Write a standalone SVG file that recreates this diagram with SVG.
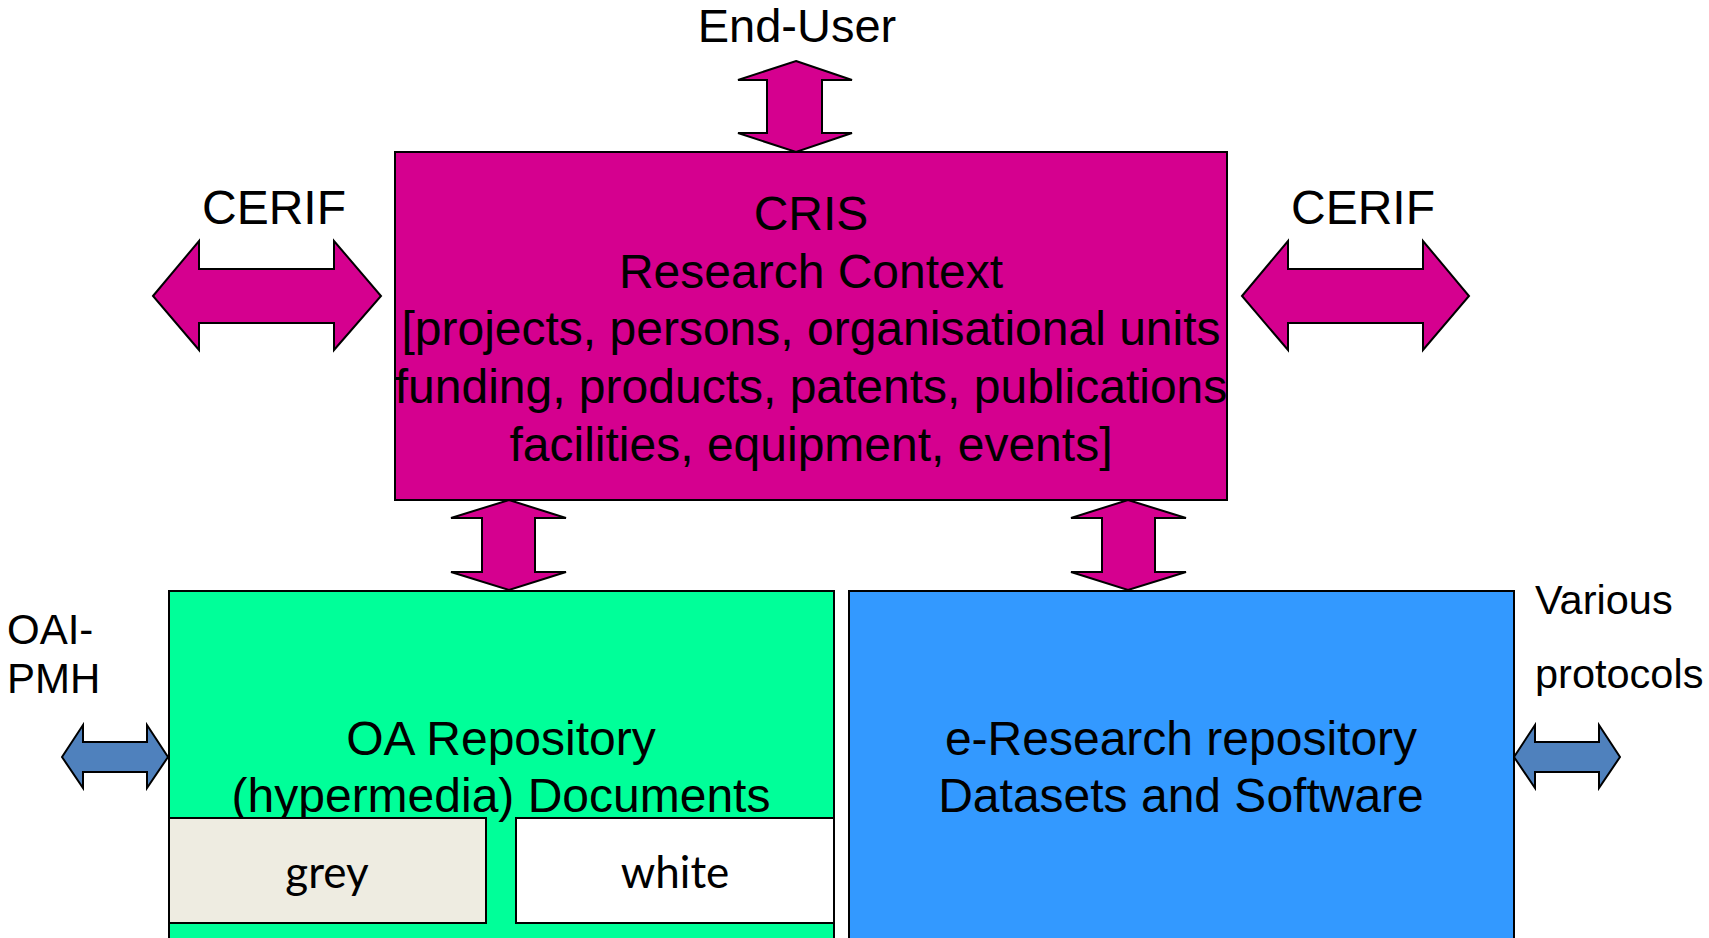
<svg xmlns="http://www.w3.org/2000/svg" width="1709" height="938" viewBox="0 0 1709 938">
<style>
.t{font-family:"Liberation Sans",Arial,sans-serif;fill:#000;text-anchor:middle}
.box{stroke:#000;stroke-width:2}
.mag{fill:#D5008F;stroke:#000;stroke-width:2;stroke-linejoin:miter}
.blu{fill:#4F81BD;stroke:#000;stroke-width:2}
.c{font-family:Lato,"Open Sans",sans-serif;fill:#000;text-anchor:middle}
</style>
<rect width="1709" height="938" fill="#fff"/>
<g id="connectors">
<polygon class="mag" points="796,61 852,80 822,80 822,133 852,133 796,152 738,133 767,133 767,80 738,80"/>
<polygon class="mag" points="153,296 199,241 199,269 334,269 334,241 381,296 334,350 334,323 199,323 199,350"/>
<polygon class="mag" points="1242,296 1288,241 1288,269 1423,269 1423,241 1469,296 1423,350 1423,323 1288,323 1288,350"/>
<polygon class="mag" points="509,500 566,518 535,518 535,572 566,572 509,590 451,572 482,572 482,518 451,518"/>
<polygon class="mag" points="1128,500 1186,518 1155,518 1155,572 1186,572 1128,590 1071,572 1102,572 1102,518 1071,518"/>
<polygon class="blu" points="62,757 83,725 83,742 147,742 147,725 168,757 147,788 147,772 83,772 83,788"/>
<polygon class="blu" points="1514,757 1535,725 1535,742 1599,742 1599,725 1620,757 1599,788 1599,772 1535,772 1535,788"/>
</g>
<g id="labels">
<text class="t" x="797" y="42" font-size="47">End-User</text>
<text class="t" x="274" y="224" font-size="48">CERIF</text>
<text class="t" x="1363" y="224" font-size="48">CERIF</text>
<text class="t" x="7" y="644" font-size="42" style="text-anchor:start">OAI-</text>
<text class="t" x="7" y="693" font-size="42" style="text-anchor:start">PMH</text>
<text class="t" x="1535" y="614" font-size="41.5" style="text-anchor:start">Various</text>
<text class="t" x="1535" y="688" font-size="41.5" style="text-anchor:start">protocols</text>
</g>
<g id="cris">
<rect class="box" x="395" y="152" width="832" height="348" fill="#D5008F"/>
<text class="t" x="811" y="230" font-size="48">CRIS</text>
<text class="t" x="811" y="288" font-size="48">Research Context</text>
<text class="t" x="811" y="345" font-size="48">[projects, persons, organisational units</text>
<text class="t" x="811" y="403" font-size="48">funding, products, patents, publications</text>
<text class="t" x="811" y="461" font-size="48">facilities, equipment, events]</text>
</g>
<g id="oa-repository">
<rect class="box" x="169" y="591" width="665" height="348" fill="#00FF99"/>
<text class="t" x="501" y="755" font-size="48">OA Repository</text>
<text class="t" x="501" y="812" font-size="48">(hypermedia) Documents</text>
</g>
<g id="grey">
<rect class="box" x="169" y="818" width="317" height="105" fill="#EEECE1"/>
<text class="c" x="327" y="888" font-size="44">grey</text>
</g>
<g id="white">
<rect class="box" x="516" y="818" width="318" height="105" fill="#fff"/>
<text class="c" x="675" y="888" font-size="44">white</text>
</g>
<g id="e-research">
<rect class="box" x="849" y="591" width="665" height="348" fill="#3399FF"/>
<text class="t" x="1181" y="755" font-size="48">e-Research repository</text>
<text class="t" x="1181" y="812" font-size="48">Datasets and Software</text>
</g>
</svg>
